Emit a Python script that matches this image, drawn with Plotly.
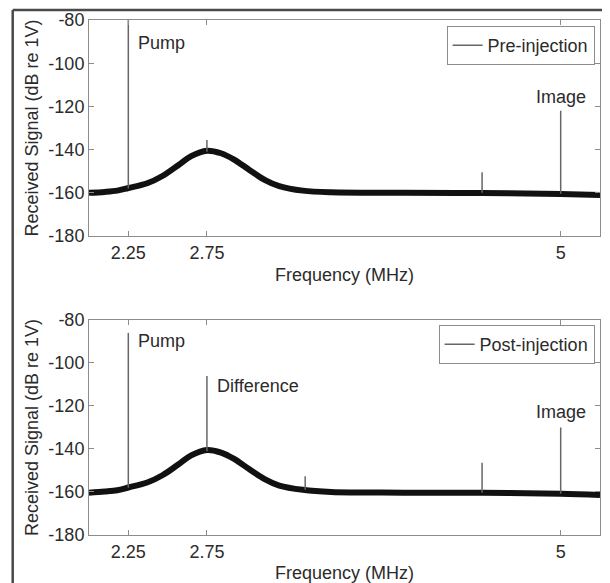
from plotly.subplots import make_subplots
import plotly.graph_objects as go

# smooth body of the spectrum, MHz / dB re 1V
freq = [2.0, 2.1, 2.18, 2.25, 2.37, 2.47, 2.57, 2.65, 2.75, 2.84, 2.92, 3.02,
        3.12, 3.21, 3.36, 3.54, 4.0, 4.5, 5.0, 5.25]
pre_level = [-160, -159.6, -159, -157.8, -155.6, -152.1, -147.1, -143, -140.5,
             -141.7, -144.5, -149.4, -154.1, -156.9, -159, -159.8, -160,
             -160.1, -160.6, -161]
post_level = [-160.3, -159.8, -159.2, -157.9, -155.6, -152.1, -147.1, -143,
              -140.5, -141.7, -144.5, -149.4, -154.1, -157, -159, -160,
              -160.3, -160.4, -160.8, -161.4]

# narrow spectral lines
pre_spike_f = [2.25, 2.75, 4.5, 5.0]
pre_spike_base = [-158, -141, -160, -160.5]
pre_spike_top = [-80, -135.5, -150.5, -122]

post_spike_f = [2.25, 2.75, 3.375, 4.5, 5.0]
post_spike_base = [-158, -141, -159, -160.4, -160.8]
post_spike_top = [-86, -106, -152.7, -146.4, -130]

FONT = "Liberation Sans, Arial, sans-serif"
TXT = "#2b2b2b"
AX = "#8c8c8c"
FS = 18


def spike_xy(fs, bases, tops):
    xs, ys = [], []
    for f, b, t in zip(fs, bases, tops):
        xs += [f, f, None]
        ys += [b, t, None]
    return xs, ys


fig = make_subplots(rows=2, cols=1, vertical_spacing=0.0)

panels = [
    (1, "Pre-injection", pre_level, pre_spike_f, pre_spike_base, pre_spike_top, "legend"),
    (2, "Post-injection", post_level, post_spike_f, post_spike_base, post_spike_top, "legend2"),
]
for row, name, level, sf, sb, st, leg in panels:
    fig.add_trace(go.Scatter(x=freq, y=level, mode="lines", showlegend=False,
                             line=dict(color="#111111", width=6, shape="spline"),
                             legend=leg, hoverinfo="skip"), row=row, col=1)
    sx, sy = spike_xy(sf, sb, st)
    fig.add_trace(go.Scatter(x=sx, y=sy, mode="lines", name=name, legend=leg,
                             line=dict(color="#666666", width=1.5)), row=row, col=1)

axis_common = dict(showgrid=False, zeroline=False, showline=True, linecolor=AX,
                   linewidth=1, mirror="ticks", ticks="inside", ticklen=5,
                   tickcolor=AX, automargin=False,
                   tickfont=dict(family=FONT, size=FS, color=TXT))

for row in (1, 2):
    fig.update_xaxes(range=[2.0, 5.25], tickvals=[2.25, 2.75, 5],
                     ticktext=["2.25", "2.75", "5"],
                     title=dict(text="Frequency (MHz)", standoff=6,
                                font=dict(family=FONT, size=FS, color=TXT)),
                     row=row, col=1, **axis_common)
    fig.update_yaxes(range=[-180, -80], tickvals=[-180, -160, -140, -120, -100, -80],
                     ticktext=["-180", "-160", "-140", "-120", "-100", "-80"],
                     title=dict(text="Received Signal (dB re 1V)", standoff=5,
                                font=dict(family=FONT, size=FS, color=TXT)),
                     row=row, col=1, **axis_common)

fig.update_layout(
    xaxis=dict(domain=[0, 1]), yaxis=dict(domain=[0.5806, 1.0]),
    xaxis2=dict(domain=[0, 1]), yaxis2=dict(domain=[0.0, 0.4175]),
)

legend_style = dict(xanchor="right", yanchor="top", bgcolor="white",
                    bordercolor=AX, borderwidth=1,
                    font=dict(family=FONT, size=FS, color=TXT))
fig.update_layout(
    legend=dict(x=0.9894, y=0.9883, **legend_style),
    legend2=dict(x=0.9894, y=0.4078, **legend_style),
)

note = dict(showarrow=False, font=dict(family=FONT, size=FS, color=TXT))
fig.add_annotation(x=2.30, y=-90.5, text="Pump", xanchor="left", xref="x", yref="y", **note)
fig.add_annotation(x=5.0, y=-115.5, text="Image", xanchor="center", xref="x", yref="y", **note)
fig.add_annotation(x=2.30, y=-90, text="Pump", xanchor="left", xref="x2", yref="y2", **note)
fig.add_annotation(x=2.80, y=-110.6, text="Difference", xanchor="left", xref="x2", yref="y2", **note)
fig.add_annotation(x=5.0, y=-122.6, text="Image", xanchor="center", xref="x2", yref="y2", **note)

# dark frame along the top and left edge of the original figure
fig.add_shape(type="line", xref="paper", yref="paper", x0=-0.1493, x1=1.03,
              y0=1.0194, y1=1.0194, line=dict(color="#4a4a4a", width=2.5))
fig.add_shape(type="line", xref="paper", yref="paper", x0=-0.1493, x1=-0.1493,
              y0=1.0194, y1=-0.12, line=dict(color="#4a4a4a", width=2.5))

# page body adds an 8px offset, so the figure is 8px smaller than the window
fig.update_layout(
    width=602, height=575,
    margin=dict(l=81, r=10, t=12, b=48),
    paper_bgcolor="white", plot_bgcolor="white",
    font=dict(family=FONT, size=FS, color=TXT),
)

fig.write_html("out.html")
